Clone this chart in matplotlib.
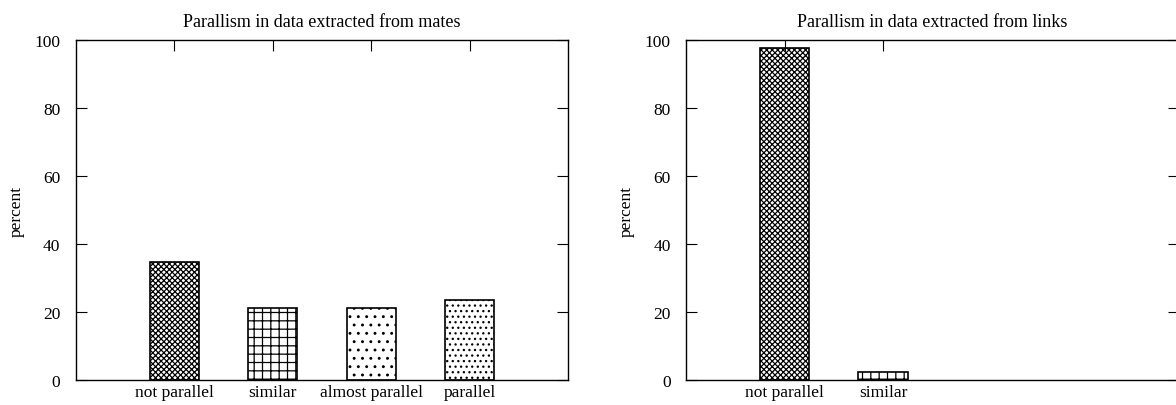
import matplotlib
matplotlib.use("Agg")
import matplotlib.pyplot as plt

# Parallelism percentages
mates_cats = ["not parallel", "similar", "almost parallel", "parallel"]
mates_pct = [34.6, 21.1, 21.1, 23.4]

links_cats = ["not parallel", "similar"]
links_pct = [97.6, 2.4]

hatches = ["xxxxxx", "++", "..", "..."]

plt.rcParams['font.family'] = ['Liberation Serif', 'DejaVu Serif']
plt.rcParams['hatch.linewidth'] = 0.9
FS = 12.5

fig = plt.figure(figsize=(11.76, 4.06), dpi=100)
W, H = 1176.0, 406.0


def panel(left_px, title, cats, vals):
	ax = fig.add_axes([left_px / W, 1 - 381 / H, 492.5 / W, 340 / H])
	pos = list(range(1, len(cats) + 1))
	for p, v, h in zip(pos, vals, hatches):
		ax.bar(p, v, width=0.5, color='white', edgecolor='black',
			   hatch=h, linewidth=1.2)
	ax.set_xlim(0, 5)
	ax.set_ylim(0, 100)
	ax.set_yticks(range(0, 101, 20))
	ax.set_xticks(pos)
	ax.set_xticklabels(cats)
	ax.tick_params(direction='in', length=8, width=0.8, top=True, right=True,
				   labelsize=FS, colors='black')
	ax.tick_params(axis='y', pad=11)
	ax.tick_params(axis='x', pad=3, bottom=False)
	for s in ax.spines.values():
		s.set_linewidth(1.0)
	ax.set_ylabel("percent", fontsize=FS, labelpad=7)
	ax.set_title(title, fontsize=13, pad=10)
	return ax


panel(75.7, "Parallism in data extracted from mates", mates_cats, mates_pct)
panel(686.0, "Parallism in data extracted from links", links_cats, links_pct)

fig.savefig("out.png", dpi=100)
